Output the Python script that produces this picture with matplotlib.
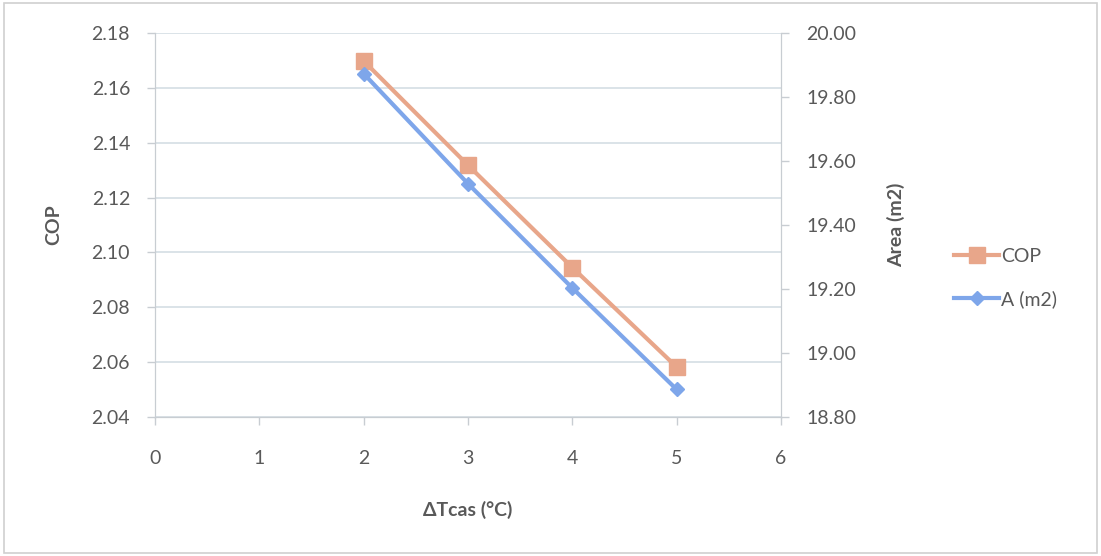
import matplotlib.pyplot as plt
from matplotlib.patches import Rectangle

# data
dt = [2, 3, 4, 5]
cop = [2.1698, 2.1318, 2.0945, 2.0582]
area = [19.873, 19.529, 19.203, 18.886]

cop_ticks = [2.04, 2.06, 2.08, 2.10, 2.12, 2.14, 2.16, 2.18]
area_ticks = [18.80, 19.00, 19.20, 19.40, 19.60, 19.80, 20.00]

c_cop = '#E8A68A'
c_area = '#7EA6EA'
c_text = '#595959'
c_grid = '#D4DEE4'
c_axis = '#C8CDD2'

plt.rcParams['font.family'] = ['Lato', 'DejaVu Sans']

fig = plt.figure(figsize=(11.01, 5.56), dpi=100)
ax = fig.add_axes([0.1408, 0.25, 0.7094 - 0.1408, 0.9406 - 0.25])
ax2 = ax.twinx()

ax.set_xlim(0, 6)
ax.set_ylim(2.04, 2.18)
ax2.set_ylim(18.80, 20.00)

ax.set_yticks(cop_ticks)
ax.set_yticklabels([f'{v:.2f}' for v in cop_ticks])
ax2.set_yticks(area_ticks)
ax2.set_yticklabels([f'{v:.2f}' for v in area_ticks])
ax.set_xticks(range(0, 7))

ax.grid(axis='y', color=c_grid, lw=1.2)
ax.set_axisbelow(True)

l1, = ax.plot(dt, cop, color=c_cop, lw=3, marker='s', ms=11, label='COP', zorder=3)
l2, = ax2.plot(dt, area, color=c_area, lw=3, marker='D', ms=7.5, label='A (m2)', zorder=3)

for a in (ax, ax2):
    a.tick_params(colors=c_text, labelsize=14, length=6, width=1, color=c_axis)
    for s in a.spines.values():
        s.set_color(c_axis)
    a.spines['top'].set_visible(False)
ax.tick_params(axis='x', pad=18)
ax.tick_params(axis='y', pad=12)
ax2.tick_params(axis='y', pad=12)

ax.set_ylabel('COP', color=c_text, fontsize=14, fontweight='bold', labelpad=21)
ax2.set_ylabel('Area (m2)', color=c_text, fontsize=14, fontweight='bold', labelpad=22)
ax.set_xlabel('ΔTcas (°C)', color=c_text, fontsize=14, fontweight='bold', labelpad=24)

leg = fig.legend([l1, l2], ['COP', 'A (m2)'], loc='center left',
                 bbox_to_anchor=(0.851, 0.5), frameon=False, fontsize=14,
                 labelspacing=1.3, handlelength=2.3, handletextpad=0.1)
for t in leg.get_texts():
    t.set_color(c_text)

fig.patches.append(Rectangle((0.004, 0.006), 0.992, 0.988, transform=fig.transFigure,
                             fill=False, ec='#D0D0D0', lw=1.2))

fig.savefig('out.png', dpi=100)
